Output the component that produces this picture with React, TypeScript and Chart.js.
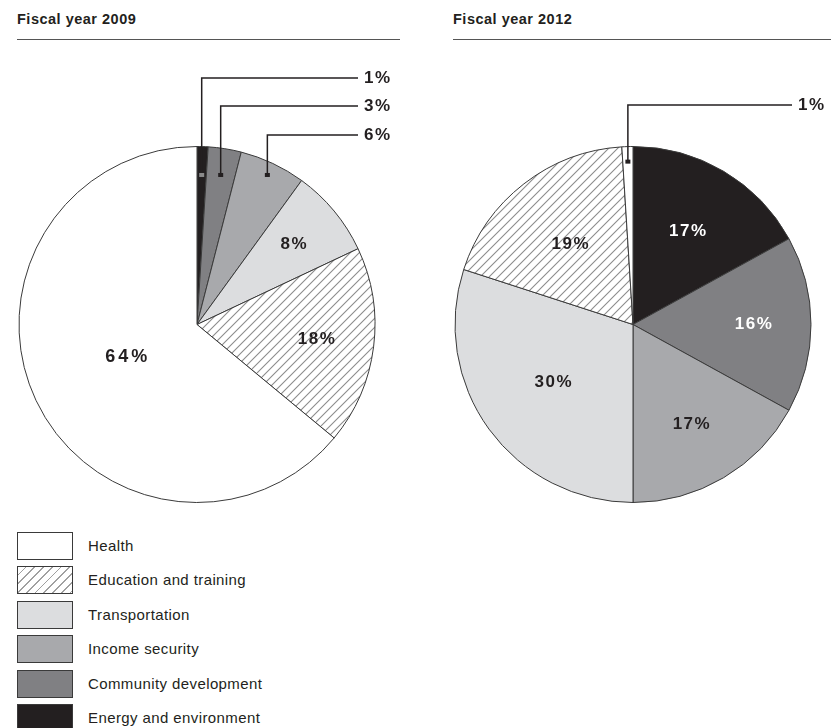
import React, { useEffect, useRef } from "react";
import { Chart, registerables } from "chart.js";

Chart.register(...registerables);

// ---------- data ----------
const categories = [
  "Energy and environment",
  "Community development",
  "Income security",
  "Transportation",
  "Education and training",
  "Health",
];
const values2009 = [1, 3, 6, 8, 18, 64];
const values2012 = [17, 16, 17, 30, 19, 1];
const chartTitles = ["Fiscal year 2009", "Fiscal year 2012"];
const legendOrder = [
  "Health",
  "Education and training",
  "Transportation",
  "Income security",
  "Community development",
  "Energy and environment",
];

// ---------- styles ----------
const FONT = '"Liberation Sans", Arial, Helvetica, sans-serif';
const INK = "#231f20";
const sliceFills: Record<string, string> = {
  "Energy and environment": "#231f20",
  "Community development": "#808083",
  "Income security": "#a8a9ac",
  Transportation: "#dcdddf",
  "Education and training": "hatch",
  Health: "#ffffff",
};

type Placement = {
  leader?: boolean;
  levelY?: number;
  r?: number;
  color?: string;
  size?: number;
  spacing?: number;
  dotColor?: string;
};

const placements2009: Placement[] = [
  { leader: true, levelY: 78, dotColor: "#8a8a8a" },
  { leader: true, levelY: 106, dotColor: INK },
  { leader: true, levelY: 135, dotColor: INK },
  { r: 0.71 },
  { r: 0.68 },
  { r: 0.43, size: 18, spacing: 3 },
];
const placements2012: Placement[] = [
  { r: 0.61, color: "#ffffff" },
  { r: 0.68, color: "#ffffff" },
  { r: 0.65 },
  { r: 0.55 },
  { r: 0.57 },
  { leader: true, levelY: 105, dotColor: INK },
];

function makeHatch(ctx: CanvasRenderingContext2D) {
  const s = 9;
  const c = document.createElement("canvas");
  c.width = s;
  c.height = s;
  const g = c.getContext("2d")!;
  g.fillStyle = "#ffffff";
  g.fillRect(0, 0, s, s);
  g.strokeStyle = "#8c8c8c";
  g.lineWidth = 1.1;
  g.beginPath();
  g.moveTo(-1, s + 1);
  g.lineTo(s + 1, -1);
  g.moveTo(-1, 1);
  g.lineTo(1, -1);
  g.moveTo(s - 1, s + 1);
  g.lineTo(s + 1, s - 1);
  g.stroke();
  return ctx.createPattern(c, "repeat");
}

const labelPlugin = {
  id: "sliceLabels",
  afterDatasetsDraw(chart: any, _args: any, opts: any) {
    const ctx: CanvasRenderingContext2D = chart.ctx;
    const meta = chart.getDatasetMeta(0);
    const values = chart.data.datasets[0].data as number[];
    const place: Placement[] = opts.placements;
    meta.data.forEach((arc: any, i: number) => {
      const { x, y, startAngle, endAngle, outerRadius } = arc.getProps(
        ["x", "y", "startAngle", "endAngle", "outerRadius"],
        true
      );
      const mid = (startAngle + endAngle) / 2;
      const p = place[i];
      const text = values[i] + "%";
      ctx.save();
      ctx.font = `bold ${p.size || 17}px ${FONT}`;
      (ctx as any).letterSpacing = (p.spacing ?? 1.5) + "px";
      ctx.textBaseline = "middle";
      if (p.leader) {
        const h = opts.dotDepth * outerRadius;
        const r = h / -Math.sin(mid);
        const dx = x + Math.cos(mid) * r;
        const dy = y + Math.sin(mid) * r;
        ctx.strokeStyle = INK;
        ctx.lineWidth = 1.5;
        ctx.beginPath();
        ctx.moveTo(dx, dy);
        ctx.lineTo(dx, p.levelY!);
        ctx.lineTo(opts.lineEndX, p.levelY!);
        ctx.stroke();
        ctx.fillStyle = p.dotColor || INK;
        ctx.fillRect(dx - 2.5, dy - 2, 5, 4);
        ctx.fillStyle = INK;
        ctx.textAlign = "left";
        ctx.fillText(text, opts.lineEndX + 6, p.levelY!);
      } else {
        const rr = (p.r ?? 0.6) * outerRadius;
        ctx.fillStyle = p.color || INK;
        ctx.textAlign = "center";
        ctx.fillText(text, x + Math.cos(mid) * rr, y + Math.sin(mid) * rr);
      }
      ctx.restore();
    });
  },
};

type PieProps = {
  values: number[];
  placements: Placement[];
  left: number;
  width: number;
  height: number;
  padding: { left: number; right: number; top: number; bottom: number };
  dotDepth: number;
  lineEndX: number;
};

function PieChart(props: PieProps) {
  const ref = useRef<HTMLCanvasElement | null>(null);
  useEffect(() => {
    const canvas = ref.current!;
    const ctx = canvas.getContext("2d")!;
    const hatch = makeHatch(ctx);
    const fills = categories.map((c) =>
      sliceFills[c] === "hatch" ? hatch : sliceFills[c]
    );
    const chart = new Chart(canvas, {
      type: "pie",
      data: {
        labels: categories,
        datasets: [
          {
            data: props.values,
            backgroundColor: fills as any,
            borderColor: "#3a3a3a",
            borderWidth: 1,
          },
        ],
      },
      options: {
        animation: false,
        responsive: false,
        events: [],
        radius: 178,
        layout: { padding: props.padding },
        plugins: {
          legend: { display: false },
          tooltip: { enabled: false },
          sliceLabels: {
            placements: props.placements,
            dotDepth: props.dotDepth,
            lineEndX: props.lineEndX,
          },
        } as any,
      } as any,
      plugins: [labelPlugin as any],
    });
    return () => chart.destroy();
  }, []);
  return (
    <canvas
      ref={ref}
      width={props.width}
      height={props.height}
      style={{
        position: "absolute",
        left: props.left,
        top: 0,
        width: props.width,
        height: props.height,
      }}
    />
  );
}

function legendSwatch(cat: string): React.CSSProperties {
  const f = sliceFills[cat];
  const base: React.CSSProperties = {
    position: "absolute",
    left: 17,
    top: 0,
    width: 56,
    height: 28,
    boxSizing: "border-box",
    border: "1.5px solid #3a3a3a",
  };
  if (f === "hatch") {
    base.background =
      "repeating-linear-gradient(135deg, #ffffff 0px, #ffffff 5px, #a0a0a0 5px, #a0a0a0 6.2px)";
  } else {
    base.background = f;
  }
  return base;
}

export default function App() {
  return (
    <div
      style={{
        position: "absolute",
        left: 0,
        top: 0,
        width: 831,
        height: 728,
        overflow: "hidden",
        background: "#ffffff",
        fontFamily: FONT,
        color: INK,
      }}
    >
      {/* titles and rules */}
      {[17, 453].map((x, i) => (
        <React.Fragment key={i}>
          <div
            style={{
              position: "absolute",
              left: x,
              top: 11,
              fontSize: 14.5,
              fontWeight: "bold",
              letterSpacing: 0.5,
              whiteSpace: "nowrap",
            }}
          >
            {chartTitles[i]}
          </div>
          <div
            style={{
              position: "absolute",
              left: x,
              top: 39,
              width: i === 0 ? 383 : 380,
              height: 0,
              borderTop: "1.5px solid #555",
            }}
          />
        </React.Fragment>
      ))}

      <PieChart
        values={values2009}
        placements={placements2009}
        left={0}
        width={415}
        height={520}
        padding={{ left: 0, right: 21, top: 129, bottom: 0 }}
        dotDepth={0.84}
        lineEndX={358}
      />
      <PieChart
        values={values2012}
        placements={placements2012}
        left={415}
        width={416}
        height={520}
        padding={{ left: 20, right: 0, top: 129, bottom: 0 }}
        dotDepth={0.915}
        lineEndX={377}
      />

      {/* legend */}
      {legendOrder.map((cat, i) => (
        <div
          key={cat}
          style={{ position: "absolute", left: 0, top: 532 + i * 34.4, height: 28, width: 300 }}
        >
          <div style={legendSwatch(cat)} />
          <div
            style={{
              position: "absolute",
              left: 88,
              top: 0,
              height: 28,
              lineHeight: "28px",
              fontSize: 15,
              letterSpacing: 0.4,
              whiteSpace: "nowrap",
            }}
          >
            {cat}
          </div>
        </div>
      ))}
    </div>
  );
}
